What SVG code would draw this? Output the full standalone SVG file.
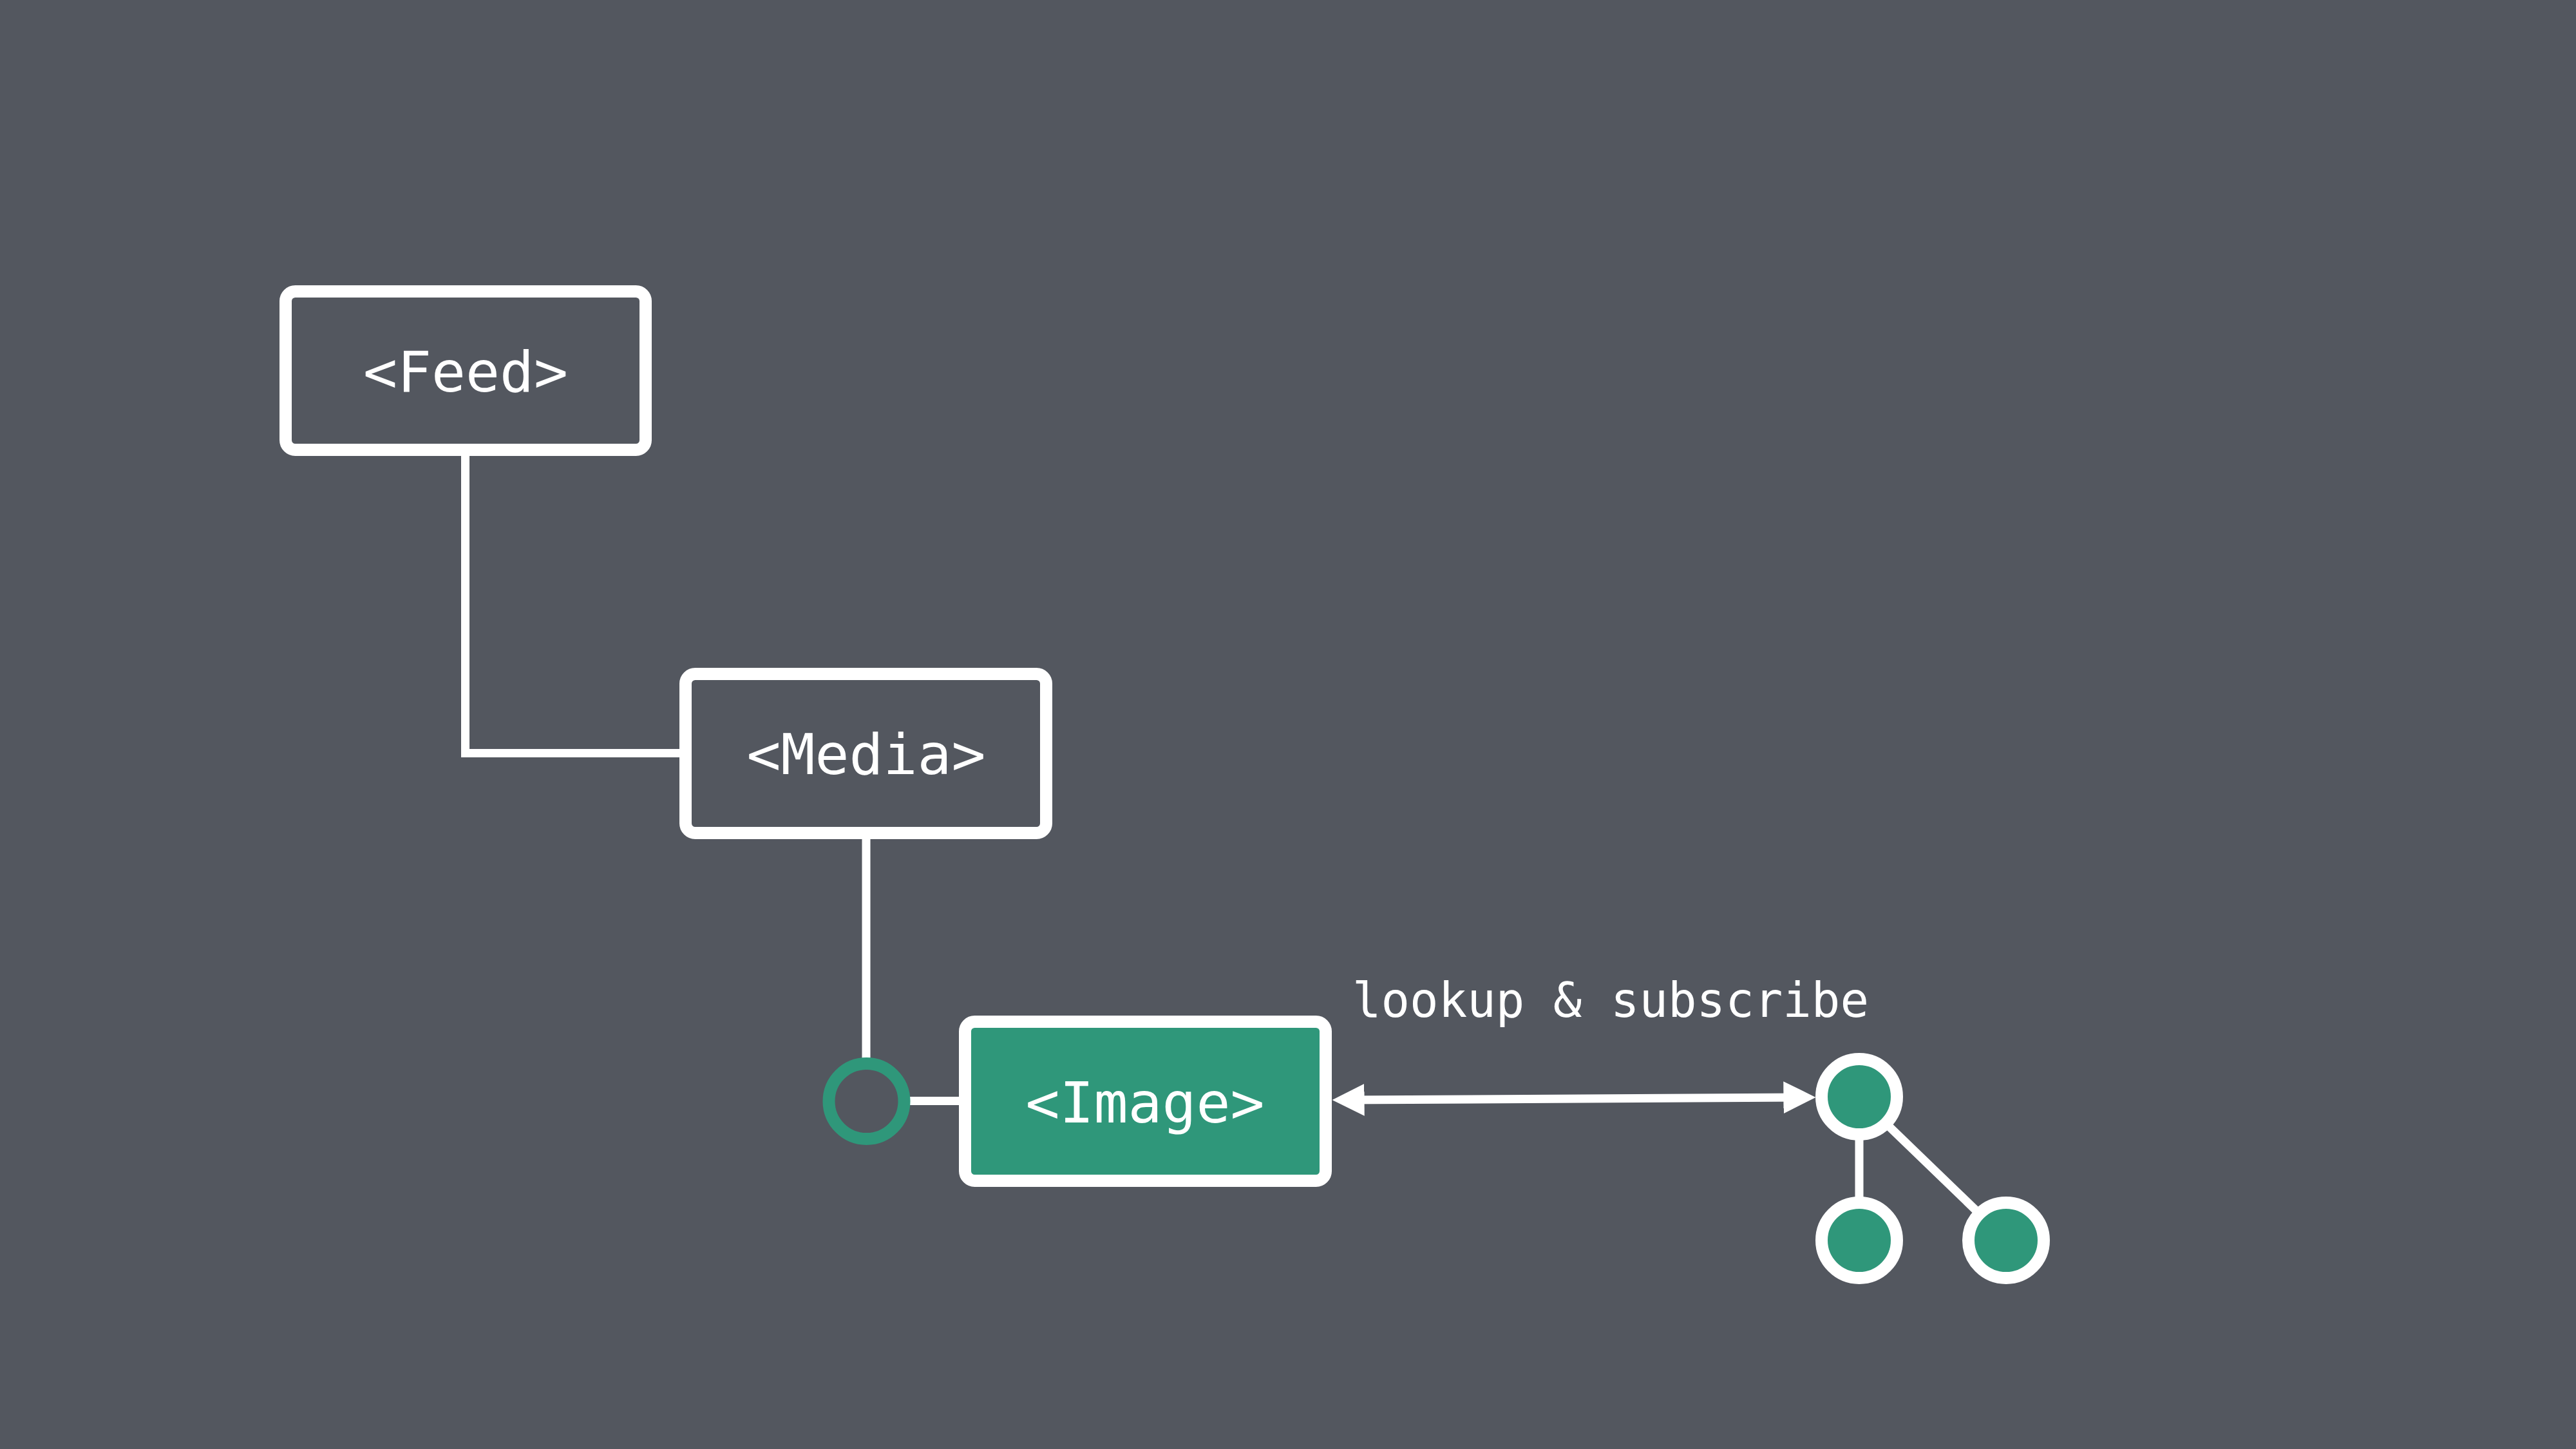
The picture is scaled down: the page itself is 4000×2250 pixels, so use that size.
<svg xmlns="http://www.w3.org/2000/svg" width="4000" height="2250" viewBox="0 0 4000 2250">
<defs>
<style>
.box{fill:#53575f;stroke:#ffffff;stroke-width:19}
.box.active{fill:#2f977a}
.lbl{font-family:"DejaVu Sans Mono","Liberation Mono",monospace;font-size:88px;fill:#ffffff;text-anchor:middle}
.edge{fill:none;stroke:#ffffff;stroke-width:13}
.dot{fill:#2f977a;stroke:#ffffff;stroke-width:19}
.elbl{font-family:"DejaVu Sans Mono","Liberation Mono",monospace;font-size:74px;fill:#ffffff}
</style>
<marker id="ah" markerUnits="userSpaceOnUse" markerWidth="50" markerHeight="50" viewBox="0 0 49 49" refX="29" refY="24.5" orient="auto-start-reverse">
<path d="M0,0 L49,24.5 L0,49 z" fill="#ffffff"/>
</marker>
</defs>
<rect width="4000" height="2250" fill="#53575f"/>
<g id="connectors">
<path class="edge" d="M722.5 702 V1169.5 H1060"/>
<path class="edge" d="M1345 1300 V1645"/>
<path class="edge" d="M1410 1709.5 H1495"/>
<line class="edge" x1="2089" y1="1708" x2="2799" y2="1704" marker-start="url(#ah)" marker-end="url(#ah)"/>
<text class="elbl" x="2100" y="1579">lookup &amp; subscribe</text>
<line class="edge" x1="2887" y1="1760" x2="2887" y2="1870"/>
<line class="edge" x1="2928" y1="1744" x2="3074" y2="1885"/>
</g>
<g id="feed">
<rect class="box" x="443.5" y="452.5" width="559" height="246" rx="15"/>
<text class="lbl" x="723" y="608">&lt;Feed&gt;</text>
</g>
<g id="media">
<rect class="box" x="1064.5" y="1046.5" width="560" height="247" rx="15"/>
<text class="lbl" x="1345" y="1202">&lt;Media&gt;</text>
</g>
<g id="slot">
<circle cx="1345.5" cy="1710" r="58.5" fill="#53575f" stroke="#2f977a" stroke-width="19"/>
</g>
<g id="image">
<rect class="box active" x="1498.5" y="1586.5" width="560" height="247" rx="15"/>
<text class="lbl" x="1778" y="1743">&lt;Image&gt;</text>
</g>
<g id="store-root">
<circle class="dot" cx="2887" cy="1703" r="58.5"/>
</g>
<g id="store-left">
<circle class="dot" cx="2887" cy="1926" r="58.5"/>
</g>
<g id="store-right">
<circle class="dot" cx="3115" cy="1926" r="58.5"/>
</g>
</svg>
